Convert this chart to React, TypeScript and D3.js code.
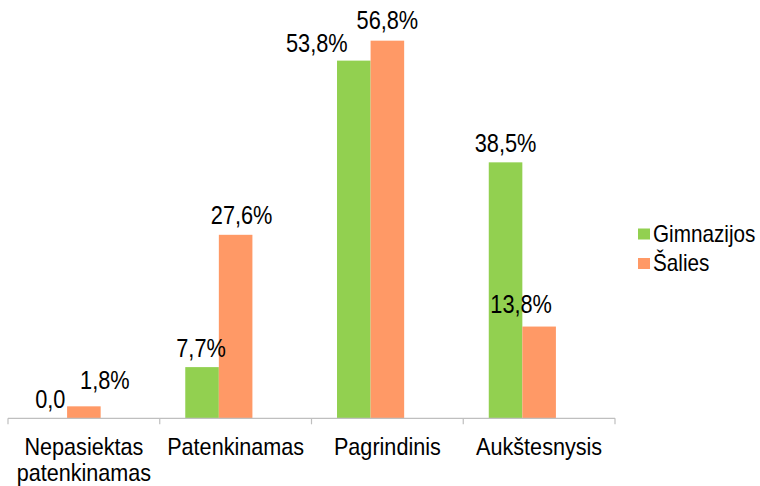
import React from 'react'
import * as d3 from 'd3'

// data
const categories = ['Nepasiektas\npatenkinamas', 'Patenkinamas', 'Pagrindinis', 'Aukštesnysis']
const seriesNames = ['Gimnazijos', 'Šalies']
const gimnazijos = [0, 7.7, 53.8, 38.5]
const salies = [1.8, 27.6, 56.8, 13.8]
const gimnazijosLabels = ['0,0', '7,7%', '53,8%', '38,5%']
const saliesLabels = ['1,8%', '27,6%', '56,8%', '13,8%']

// label nudges (dx, dy) as placed in the original
const nudges = [
  [[0, 0], [-1, 0], [-37, 2], [0, 0]],
  [[21, -7], [6, 0], [0, -1], [-18, -3]]
]

const colors = ['#92d050', '#ff9966']
const W = 760
const H = 486
const font = 'Liberation Sans, Arial, sans-serif'

function ScaledText(props: any) {
  const { x, y, sx, size, children, anchor } = props
  return (
    <text
      transform={'translate(' + x + ',' + y + ') scale(' + sx + ',1)'}
      textAnchor={anchor || 'middle'}
      fontSize={size}
      fontFamily={font}
      fill="#000"
    >
      {children}
    </text>
  )
}

export default function App() {
  const x0 = d3.scaleBand().domain(categories).range([8, 615]).padding(0)
  // three slots per category, the third left empty like in the source chart
  const x1 = d3
    .scaleBand()
    .domain(['0', '1', '2'])
    .range([0, x0.bandwidth()])
    .paddingInner(0)
    .paddingOuter(0.76)
  const y = d3.scaleLinear().domain([0, 60]).range([418.3, 19.4])

  const series = [gimnazijos, salies]
  const labels = [gimnazijosLabels, saliesLabels]
  const baseY = y(0)

  const ticks = categories.map((c) => x0(c) as number).concat([x0.range()[1]])

  return (
    <svg width={W} height={H} style={{ position: 'absolute', left: 0, top: 0, background: '#fff' }}>
      {series.map((vals, si) =>
        vals.map((v, ci) => {
          const bx = (x0(categories[ci]) as number) + (x1(String(si)) as number)
          return (
            <rect
              key={'b' + si + '-' + ci}
              x={bx}
              y={y(v)}
              width={x1.bandwidth()}
              height={baseY - y(v)}
              fill={colors[si]}
            />
          )
        })
      )}

      <line x1={8} x2={615} y1={baseY} y2={baseY} stroke="#bfbfbf" strokeWidth={1.2} />
      {ticks.map((t, i) => (
        <line key={'t' + i} x1={t} x2={t} y1={baseY} y2={baseY + 6} stroke="#bfbfbf" strokeWidth={1.2} />
      ))}

      {series.map((vals, si) =>
        vals.map((v, ci) => {
          const cx =
            (x0(categories[ci]) as number) + (x1(String(si)) as number) + x1.bandwidth() / 2
          const n = nudges[si][ci]
          return (
            <ScaledText key={'l' + si + '-' + ci} x={cx + n[0]} y={y(v) - 10.5 + n[1]} sx={0.87} size={25}>
              {labels[si][ci]}
            </ScaledText>
          )
        })
      )}

      {categories.map((c) => {
        const cx = (x0(c) as number) + x0.bandwidth() / 2
        return c.split('\n').map((line, li) => (
          <ScaledText key={c + li} x={cx} y={454.5 + li * 26.3} sx={0.9} size={24}>
            {line}
          </ScaledText>
        ))
      })}

      {seriesNames.map((s, i) => (
        <g key={s}>
          <rect x={638} y={228.5 + i * 29.5} width={12} height={11} fill={colors[i]} />
          <ScaledText x={653} y={241.5 + i * 29.5} sx={0.9} size={23} anchor="start">
            {s}
          </ScaledText>
        </g>
      ))}
    </svg>
  )
}
